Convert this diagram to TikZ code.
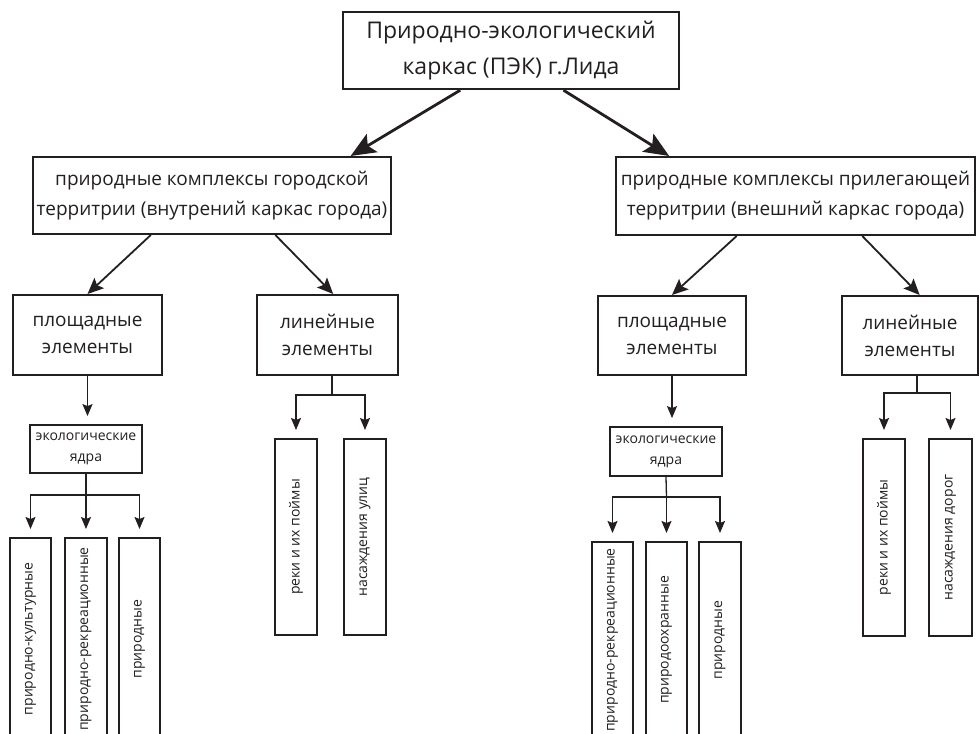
\documentclass[tikz,border=0pt]{standalone}
\usepackage{fontspec}
\setmainfont{Open Sans}
\usetikzlibrary{arrows.meta,calc}

\begin{document}
\begin{tikzpicture}[
  x=1pt, y=-1pt,
  inner sep=0pt, align=center,
  bigbox/.style={draw=ink, line width=2.4pt, text=ink, font=\fontsize{23}{36}\selectfont},
  midbox/.style={draw=ink, line width=2pt, text=ink, font=\fontsize{19}{30}\selectfont},
  elbox/.style={draw=ink, line width=2pt, text=ink, font=\fontsize{19}{27}\selectfont},
  corebox/.style={draw=ink, line width=1.8pt, text=ink, font=\fontsize{14}{21}\selectfont},
  vbox/.style={draw=ink, line width=2pt, text=ink, font=\fontsize{14}{16}\selectfont},
  bigarr/.style={draw=ink, line width=2.8pt, -{Stealth[length=25pt,width=21pt,inset=5pt]}},
  midarr/.style={draw=ink, line width=1.8pt, -{Stealth[length=16pt,width=14pt,inset=3pt]}},
  smallarr/.style={draw=ink, line width=1.3pt, -{Stealth[length=12pt,width=10pt,inset=2pt]}, shorten >=8pt},
  smallline/.style={draw=ink, line width=1.3pt},
]
\definecolor{ink}{RGB}{35,31,32}

\useasboundingbox (0,0) rectangle (979,733);
\clip (0,0) rectangle (979,733);

% top level
\node [bigbox, minimum width=336, minimum height=77] (root) at (511,50.5)
  {Природно-экологический\\каркас (ПЭК) г.Лида};

% inner and outer frames
\node [midbox, minimum width=358, minimum height=77] (inner) at (212,195.5)
  {природные комплексы городской\\территрии (внутрений каркас города)};
\node [midbox, minimum width=359, minimum height=78] (outer) at (795.5,196)
  {природные комплексы прилегающей\\территрии (внешний каркас города)};

\draw [bigarr] ($(root.south west)!0.35!(root.south east)$) -- ($(inner.north west)!0.885!(inner.north east)$);
\draw [bigarr] ($(root.south west)!0.655!(root.south east)$) -- ($(outer.north west)!0.15!(outer.north east)$);

% elements
\node [elbox, minimum width=149, minimum height=80] (innarea) at (87.5,335) {площадные\\элементы};
\node [elbox, minimum width=141, minimum height=80] (innline) at (327.5,335) {линейные\\элементы};
\node [elbox, minimum width=148, minimum height=79] (outarea) at (672,335.5) {площадные\\элементы};
\node [elbox, minimum width=136, minimum height=79] (outline) at (910,335.5) {линейные\\элементы};

\draw [midarr] ($(inner.south west)!0.33!(inner.south east)$) -- (innarea.north);
\draw [midarr] ($(inner.south west)!0.676!(inner.south east)$) -- ($(innline.north west)!0.54!(innline.north east)$);
\draw [midarr] ($(outer.south west)!0.337!(outer.south east)$) -- (outarea.north);
\draw [midarr] ($(outer.south west)!0.685!(outer.south east)$) -- ($(outline.north west)!0.57!(outline.north east)$);

% ecological cores
\node [corebox, minimum width=112, minimum height=48] (inncore) at (86,449) {экологические\\ядра};
\node [corebox, minimum width=112, minimum height=49] (outcore) at (666,451.5) {экологические\\ядра};

\draw [smallarr] (innarea.south) -- (innarea.south |- inncore.north);
\draw [smallarr] (outarea.south) -- (outarea.south |- outcore.north);

% inner frame, area branch
\node [vbox, minimum width=41, minimum height=202] (ia1) at (30.5,639) {\rotatebox{90}{природно-культурные}};
\node [vbox, minimum width=42, minimum height=202] (ia2) at (86,639) {\rotatebox{90}{природно-рекреационные}};
\node [vbox, minimum width=41, minimum height=202] (ia3) at (139.5,639) {\rotatebox{90}{природные}};

\coordinate (iasplit) at (86,495);
\draw [smallline] (inncore.south) -- (iasplit);
\draw [smallarr] (iasplit) -| (ia1.north);
\draw [smallarr] (iasplit) -- (ia2.north);
\draw [smallarr] (iasplit) -| (ia3.north);

% inner frame, linear branch
\node [vbox, minimum width=42, minimum height=196] (il1) at (296,537) {\rotatebox{90}{реки и их поймы}};
\node [vbox, minimum width=42, minimum height=196] (il2) at (365,537) {\rotatebox{90}{насаждения улиц}};

\coordinate (ilsplit) at (332,395);
\draw [smallline] (innline.south -| ilsplit) -- (ilsplit);
\draw [smallarr] (ilsplit) -| (il1.north);
\draw [smallarr] (ilsplit) -| (il2.north);

% outer frame, area branch
\node [vbox, minimum width=41, minimum height=196] (oa1) at (612.5,640) {\rotatebox{90}{природно-рекреационные}};
\node [vbox, minimum width=41, minimum height=196] (oa2) at (666.5,640) {\rotatebox{90}{природоохранные}};
\node [vbox, minimum width=42, minimum height=196] (oa3) at (720,640) {\rotatebox{90}{природные}};

\coordinate (oasplit) at (666.5,497);
\draw [smallline] (outcore.south) -- (oasplit);
\draw [smallarr] (oasplit) -| (oa1.north);
\draw [smallarr] (oasplit) -- (oa2.north);
\draw [smallarr] (oasplit) -| (oa3.north);

% outer frame, linear branch
\node [vbox, minimum width=42, minimum height=197] (ol1) at (884,537.5) {\rotatebox{90}{реки и их поймы}};
\node [vbox, minimum width=43, minimum height=197] (ol2) at (950.5,537.5) {\rotatebox{90}{насаждения дорог}};

\coordinate (olsplit) at (917,393);
\draw [smallline] (outline.south -| olsplit) -- (olsplit);
\draw [smallarr] (olsplit) -| (ol1.north);
\draw [smallarr] (olsplit) -| (ol2.north);

\end{tikzpicture}
\end{document}
